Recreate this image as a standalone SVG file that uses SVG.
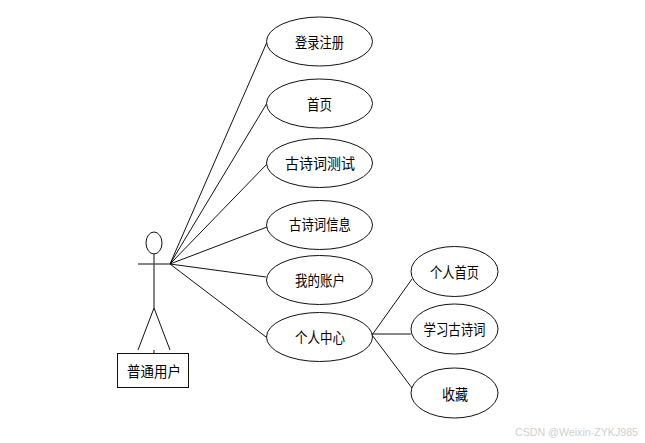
<svg xmlns="http://www.w3.org/2000/svg" width="645" height="443" viewBox="0 0 645 443">
<style>
.l{stroke:#111;stroke-width:1;fill:none}
.e{stroke:#111;stroke-width:1;fill:#fff}
.t{font-family:"Noto Sans CJK SC",sans-serif;font-size:15px;fill:#000;text-anchor:middle}
</style>
<rect width="645" height="443" fill="#fff"/>
<g id="connectors">
<line class="l" x1="170" y1="264" x2="267" y2="42"/>
<line class="l" x1="170" y1="264" x2="267" y2="103"/>
<line class="l" x1="170" y1="264" x2="267" y2="164"/>
<line class="l" x1="170" y1="264" x2="267" y2="227"/>
<line class="l" x1="170" y1="264" x2="266" y2="277"/>
<line class="l" x1="170" y1="264" x2="266" y2="337"/>
<line class="l" x1="372" y1="335" x2="412" y2="279"/>
<line class="l" x1="372" y1="334" x2="411" y2="334"/>
<line class="l" x1="372" y1="335" x2="412" y2="388"/>
</g>
<g id="actor">
<ellipse class="e" cx="154" cy="243" rx="8" ry="11"/>
<line class="l" x1="138" y1="264" x2="170" y2="264" style="stroke:#444;stroke-width:1.3"/>
<line class="l" x1="154" y1="254" x2="154" y2="308" style="stroke:#444;stroke-width:1.3"/>
<line class="l" x1="154" y1="308" x2="138" y2="350"/>
<line class="l" x1="154" y1="308" x2="170" y2="350"/>
<line class="l" x1="154" y1="350" x2="154" y2="353"/>
</g>
<g id="actor-label">
<rect x="117.500" y="353.500" width="71" height="34" fill="#fff" stroke="#111" stroke-width="1"/>
<text class="t" x="154" y="377" textLength="54" lengthAdjust="spacingAndGlyphs">普通用户</text>
</g>
<g id="n1"><ellipse class="e" cx="319.500" cy="41.500" rx="53" ry="24.500"/><text class="t" x="319.500" y="48" textLength="49" lengthAdjust="spacingAndGlyphs">登录注册</text></g>
<g id="n2"><ellipse class="e" cx="319.500" cy="103.500" rx="53" ry="24.500"/><text class="t" x="319.500" y="110" textLength="25" lengthAdjust="spacingAndGlyphs">首页</text></g>
<g id="n3"><ellipse class="e" cx="319.500" cy="163" rx="53" ry="24.500"/><text class="t" x="320" y="169" textLength="70" lengthAdjust="spacingAndGlyphs">古诗词测试</text></g>
<g id="n4"><ellipse class="e" cx="319.500" cy="225" rx="53" ry="24.500"/><text class="t" x="320" y="230" textLength="62" lengthAdjust="spacingAndGlyphs">古诗词信息</text></g>
<g id="n5"><ellipse class="e" cx="319.500" cy="280" rx="53" ry="24.500"/><text class="t" x="320" y="286" textLength="50" lengthAdjust="spacingAndGlyphs">我的账户</text></g>
<g id="n6"><ellipse class="e" cx="319.500" cy="337" rx="53" ry="24.500"/><text class="t" x="320" y="343" textLength="50" lengthAdjust="spacingAndGlyphs">个人中心</text></g>
<g id="n7"><ellipse class="e" cx="454.500" cy="271.500" rx="43.500" ry="25"/><text class="t" x="454.500" y="278" textLength="49" lengthAdjust="spacingAndGlyphs">个人首页</text></g>
<g id="n8"><ellipse class="e" cx="454.500" cy="329" rx="43.500" ry="25"/><text class="t" x="454.500" y="335" textLength="62" lengthAdjust="spacingAndGlyphs">学习古诗词</text></g>
<g id="n9"><ellipse class="e" cx="454.500" cy="393" rx="43.500" ry="25"/><text class="t" x="455" y="400" textLength="26" lengthAdjust="spacingAndGlyphs">收藏</text></g>
<text x="576.500" y="436" textLength="123" lengthAdjust="spacingAndGlyphs" style="font-family:'Liberation Sans',sans-serif;font-size:11px;fill:#cfcfcf;text-anchor:middle">CSDN @Weixin-ZYKJ985</text>
</svg>
